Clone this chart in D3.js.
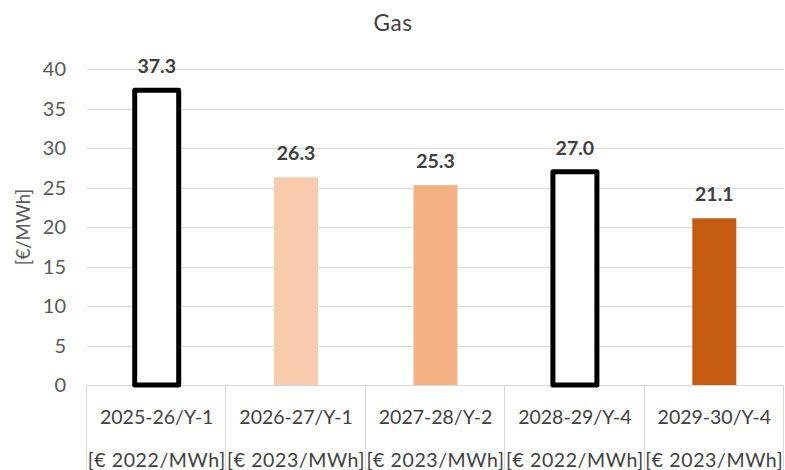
<!DOCTYPE html>
<html>
<head>
<meta charset="utf-8">
<script src="https://cdn.jsdelivr.net/npm/d3@7/dist/d3.min.js"></script>
<style>
  html, body { margin: 0; padding: 0; background: #fff; }
  svg { display: block; }
  text { font-family: Lato, "Open Sans", sans-serif; }
</style>
</head>
<body>
<div id="chart"></div>
<script>
// Auction results for gas, one bar per delivery year / auction
const categories = ["2025-26/Y-1", "2026-27/Y-1", "2027-28/Y-2", "2028-29/Y-4", "2029-30/Y-4"];
const units = ["[€ 2022/MWh]", "[€ 2023/MWh]", "[€ 2023/MWh]", "[€ 2022/MWh]", "[€ 2023/MWh]"];
const values = [37.3, 26.3, 25.3, 27.0, 21.1];
const fills = ["none", "#F8CBAD", "#F4B183", "none", "#C55A11"];
const outlined = [true, false, false, true, false];
const yTicks = [0, 5, 10, 15, 20, 25, 30, 35, 40];

const W = 785, H = 470;
const margin = { left: 87, right: 1, top: 69, bottom: 85 };
const FONT = "Lato, 'Open Sans', sans-serif";

const svg = d3.select("#chart").append("svg").attr("width", W).attr("height", H);

const x = d3.scaleBand().domain(categories).range([margin.left, W - margin.right]).paddingInner(0).paddingOuter(0);
const y = d3.scaleLinear().domain([0, 40]).range([H - margin.bottom, margin.top]);

// Title
svg.append("text").attr("x", 393).attr("y", 31).attr("text-anchor", "middle")
  .attr("font-size", 22.5).attr("fill", "#404040").attr("letter-spacing", 0.5).text("Gas");

// Horizontal gridlines
svg.append("g").selectAll("line").data(yTicks.filter(d => d > 0)).join("line")
  .attr("x1", margin.left).attr("x2", W - margin.right)
  .attr("y1", d => Math.round(y(d)) + 0.5).attr("y2", d => Math.round(y(d)) + 0.5)
  .attr("stroke", "#d9d9d9").attr("stroke-width", 1);

// Y axis tick labels
const yAxis = d3.axisLeft(y).tickValues(yTicks).tickSize(0).tickPadding(0);
const gy = svg.append("g").attr("transform", `translate(66,0)`).call(yAxis);
gy.select(".domain").remove();
gy.selectAll("text").attr("font-size", 20).attr("fill", "#595959")
  .attr("font-family", FONT).attr("dy", "0.34em");

// Y axis title
svg.append("text").attr("transform", `translate(30,${(y(0) + y(40)) / 2}) rotate(-90)`)
  .attr("text-anchor", "middle").attr("font-size", 18.5).attr("fill", "#595959").text("[€/MWh]");

// Category axis: baseline and band separators
const y0 = Math.round(y(0)) + 0.5;
svg.append("line").attr("x1", margin.left).attr("x2", W - margin.right)
  .attr("y1", y0).attr("y2", y0).attr("stroke", "#d9d9d9");
const bounds = categories.map(c => x(c)).concat([x(categories[categories.length - 1]) + x.bandwidth()]);
svg.append("g").selectAll("line").data(bounds).join("line")
  .attr("x1", d => Math.round(d) - 0.5).attr("x2", d => Math.round(d) - 0.5)
  .attr("y1", y0).attr("y2", H).attr("stroke", "#d9d9d9");

// Category labels (two lines)
const xAxis = d3.axisBottom(x).tickSize(0).tickPadding(0);
const gx = svg.append("g").attr("transform", `translate(0,${y0})`).call(xAxis);
gx.select(".domain").remove();
gx.selectAll(".tick text").each(function(d, i) {
  const t = d3.select(this);
  t.text(null).attr("y", 0).attr("dy", null)
    .attr("font-size", 19.5).attr("fill", "#404040").attr("font-family", FONT);
  t.append("tspan").attr("x", 0).attr("y", 38).text(d);
  t.append("tspan").attr("x", 0).attr("y", 81).attr("letter-spacing", 0.6).text(units[i]);
});

// Bars
const barW = 44;
svg.append("g").selectAll("rect").data(values).join("rect")
  .attr("x", (d, i) => x(categories[i]) + x.bandwidth() / 2 - barW / 2)
  .attr("y", d => y(d))
  .attr("width", barW)
  .attr("height", d => y(0) - y(d))
  .attr("fill", (d, i) => outlined[i] ? "#fff" : fills[i])
  .attr("stroke", (d, i) => outlined[i] ? "#000" : "none")
  .attr("stroke-width", 5)
  .attr("stroke-linejoin", "round");

// Value labels
svg.append("g").selectAll("text").data(values).join("text")
  .attr("x", (d, i) => x(categories[i]) + x.bandwidth() / 2)
  .attr("y", d => y(d) - 17)
  .attr("text-anchor", "middle").attr("font-size", 19.5).attr("font-weight", "bold")
  .attr("fill", "#404040").text(d => d.toFixed(1));
</script>
</body>
</html>
